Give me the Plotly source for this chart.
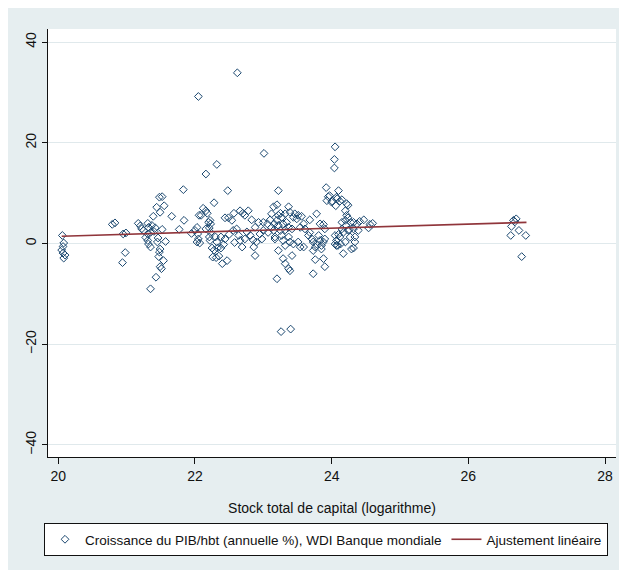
import plotly.graph_objects as go

# Scatter: log total capital stock (x) vs GDP per capita growth % (y)
cap_x = [
    20.06, 20.08, 20.07, 20.05, 20.07, 20.10, 20.08,
    20.79, 20.83, 20.95, 20.99, 20.98, 20.94,
    21.17, 21.22, 21.25, 21.31, 21.32, 21.35, 21.31, 21.37, 21.42, 21.52,
    21.39, 21.44, 21.48, 21.52, 21.49, 21.55, 21.66, 21.83, 21.84, 21.77,
    21.57, 21.46, 21.31, 21.32, 21.35, 21.49, 21.48, 21.47, 21.54, 21.49,
    21.51, 21.43, 21.35, 21.95, 22.03, 22.04, 22.03, 22.06,
    21.20, 21.28, 21.40, 21.45, 22.00, 22.05, 22.07,
    23.01, 22.32, 22.16, 22.48, 22.28, 22.12, 22.16, 22.09, 22.18, 23.22,
    23.15, 23.20, 23.22, 23.12, 22.44, 22.49, 22.57, 22.66, 22.70, 22.78,
    22.54, 22.73, 22.22, 22.23, 22.21, 22.23, 22.21, 22.22, 22.25, 22.26,
    22.31, 22.33, 22.38, 22.38, 22.40, 22.47, 22.61, 22.83, 22.88, 22.93,
    23.00, 23.06, 23.10, 23.15, 22.44, 22.50, 22.56, 22.64, 22.66, 22.69,
    22.73, 22.81, 22.85, 22.86, 22.88, 22.90, 22.95, 23.00, 23.07, 23.17,
    23.22, 23.20, 22.30, 22.32,
    22.05, 22.62, 22.16, 22.20, 22.28, 22.35, 22.42, 22.58, 22.76, 22.98,
    23.92, 23.97, 24.10, 23.93, 24.00, 24.07, 24.12, 24.15, 24.20, 24.22,
    23.37, 23.39, 23.32, 23.25, 23.27, 23.46, 23.51, 23.56, 23.44, 23.49,
    23.20, 23.16, 23.12, 23.22, 23.29, 23.34, 23.37, 23.42, 23.32, 23.25,
    23.27, 23.59, 23.68, 23.61, 23.68, 23.54, 23.78, 23.83, 23.88, 23.90,
    24.15, 24.20, 24.21, 24.15, 24.24, 24.17, 23.17, 23.29, 23.37, 23.39,
    23.32, 23.44, 23.51, 23.54, 23.59, 23.66, 23.71, 23.73, 23.76, 23.78,
    23.83, 23.81, 23.85, 23.88, 23.73, 23.90, 24.07, 24.12, 24.13, 24.07,
    24.20, 24.17, 23.29, 23.32, 23.42, 23.39, 23.37, 23.76, 23.88, 23.90,
    23.73,
    24.05, 24.04, 24.04, 23.95, 24.01, 24.06, 24.08, 24.24, 24.22, 24.24,
    24.28, 24.32, 24.37, 24.41, 24.47, 24.54, 24.56, 24.60, 24.32, 24.26,
    24.39, 24.34, 24.27, 24.05, 24.10, 24.05, 24.09, 23.85, 24.34, 24.32,
    24.29,
    23.26, 23.40,
    26.66, 26.70, 26.68, 26.63, 26.62, 26.74, 26.84, 26.78,
]
growth_y = [
    1.6, 0.1, -0.6, -1.3, -1.9, -2.3, -2.9,
    3.8, 4.1, 1.9, 2.1, -1.8, -3.8,
    4.0, 2.9, 2.6, 4.0, 3.2, 2.2, 1.9, 3.6, 3.1, 2.8,
    5.4, 7.2, 9.2, 9.3, 6.2, 7.5, 5.4, 10.7, 4.6, 2.8,
    0.4, 1.1, 0.6, -0.1, -0.7, -1.1, -1.7, -2.6, -3.4, -4.6,
    -5.0, -6.7, -9.0, 2.0, 3.2, 1.9, 0.3, 5.6,
    3.5, 1.2, 2.4, 0.3, 2.6, 0.9, 0.1,
    17.9, 15.7, 13.8, 10.5, 8.1, 7.0, 6.5, 5.6, 6.0, 10.5,
    7.3, 7.7, 5.6, 5.9, 5.1, 5.1, 6.0, 6.5, 6.0, 6.5,
    4.6, 5.6, 4.6, 3.9, 3.1, 2.2, 1.3, 0.6, -0.9, -2.7,
    -2.8, -0.9, -0.9, 1.3, -4.0, -3.4, 2.9, 4.7, 3.2, 4.2,
    4.2, 3.9, 4.7, 2.6, 0.9, 1.8, 2.6, 1.6, 0.6, -0.7,
    0.9, 1.6, 0.7, -0.7, -2.4, 0.3, 1.9, 2.6, 2.2, 1.3,
    -1.4, -7.0, 1.3, 0.3,
    29.2, 33.9, 2.9, 4.2, -1.3, -2.5, -0.2, 0.2, 2.3, 0.9,
    11.1, 9.5, 10.5, 8.5, 8.2, 9.2, 8.4, 8.7, 6.5, 7.9,
    7.3, 6.2, 5.9, 6.0, 5.2, 5.9, 5.6, 5.4, 5.2, 4.9,
    4.6, 3.9, 3.2, 3.6, 3.9, 4.2, 3.2, 2.9, 2.7, 2.6,
    1.6, 3.9, 4.7, 2.9, 2.2, 3.2, 5.9, 3.9, 3.8, 2.9,
    4.2, 4.6, 3.6, 2.9, 2.6, 2.2, 0.9, 0.6, 1.3, 0.3,
    -0.4, -0.1, 0.3, -0.7, -0.7, 1.6, 0.9, 0.3, -0.7, -0.1,
    0.6, 1.6, -1.1, 0.3, -1.4, 0.9, 0.6, 1.3, -0.1, -0.4,
    0.3, -2.0, -3.0, -4.0, -2.4, -5.4, -5.0, -3.2, -3.0, -4.6,
    -6.0,
    19.2, 16.7, 15.0, 9.3, 8.4, 7.5, 8.9, 7.6, 5.6, 5.1,
    4.2, 4.2, 3.9, 4.4, 4.7, 3.1, 3.8, 4.0, 2.9, 2.7,
    2.6, 1.3, 1.3, 1.6, 1.8, -0.1, -0.4, -0.4, 0.3, -0.9,
    -1.1,
    -17.5, -17.0,
    4.6, 4.9, 4.3, 3.4, 1.6, 2.6, 1.6, -2.6,
]

# Linear fit (endpoints)
fit_x = [20.05, 26.85]
fit_y = [1.45, 4.2]

x_ticks = [20, 22, 24, 26, 28]
y_ticks = [-40, -20, 0, 20, 40]

FONT = "Liberation Sans, Arial, sans-serif"
NAVY = "#1a476f"
MAROON = "#90353b"
BG = "#e6eef0"

# the page body adds an 8px white margin at top/left
W, H = 619, 562
ML, MR, MT, MB = 40, 11, 21, 113
PW = W - ML - MR
PH = H - MT - MB

fig = go.Figure()
fig.add_trace(go.Scatter(
    x=cap_x, y=growth_y, mode="markers",
    name="Croissance du PIB/hbt (annuelle %), WDI Banque mondiale",
    marker=dict(symbol="diamond-open", size=6, color=NAVY, line=dict(width=1, color=NAVY)),
))
fig.add_trace(go.Scatter(
    x=fit_x, y=fit_y, mode="lines", name="Ajustement linéaire",
    line=dict(color=MAROON, width=1.6),
))

fig.update_layout(
    width=W, height=H,
    margin=dict(l=ML, r=MR, t=MT, b=MB, autoexpand=False),
    paper_bgcolor=BG, plot_bgcolor="white",
    font=dict(family=FONT, size=13, color="#111111"),
    showlegend=True,
    legend=dict(
        orientation="h", x=-4 / PW, xanchor="left", y=-(515 - 449) / PH, yanchor="top",
        bgcolor="white", bordercolor="#111111", borderwidth=1,
        font=dict(family=FONT, size=13.5), itemwidth=30,
    ),
    xaxis=dict(
        range=[19.85, 28.16], tickvals=x_ticks, ticks="outside", ticklen=6,
        tickcolor="#111111", showline=True, linecolor="#111111", linewidth=1,
        showgrid=False, zeroline=False, tickfont=dict(size=14), automargin=False,
        title=dict(text="Stock total de capital (logarithme)", font=dict(size=14), standoff=20),
    ),
    yaxis=dict(
        range=[-42.4, 42.6], tickvals=y_ticks, ticks="outside", ticklen=5,
        tickcolor="#111111", showline=True, linecolor="#111111", linewidth=1,
        showgrid=True, gridcolor="#e0e9ec", gridwidth=1, zeroline=False,
        tickangle=-90, tickfont=dict(size=14), automargin=False,
    ),
)

fig.write_html("out.html")
